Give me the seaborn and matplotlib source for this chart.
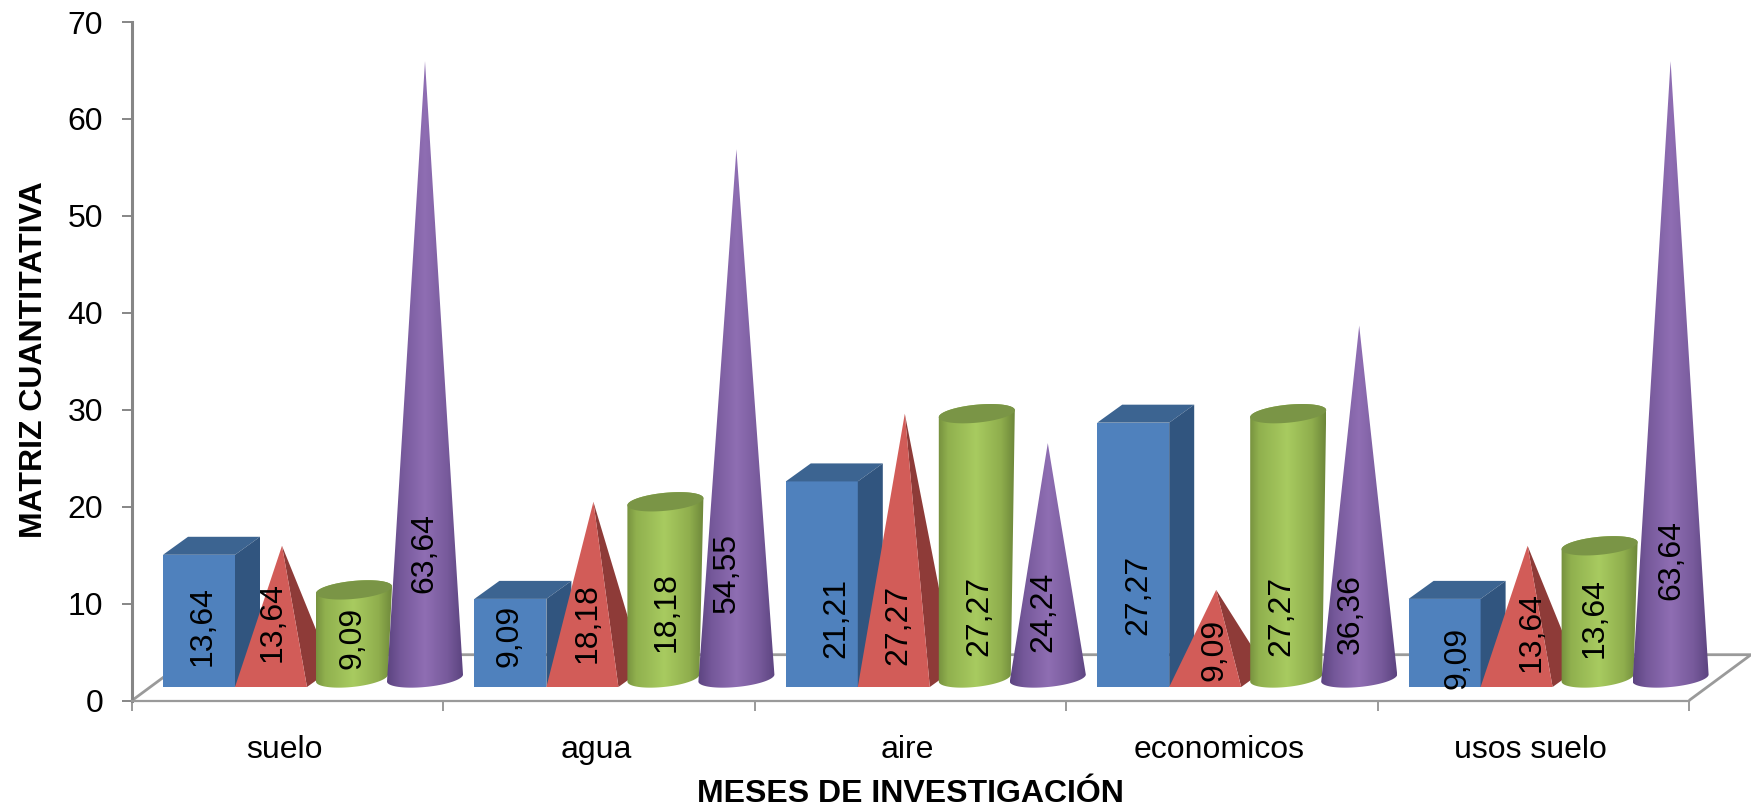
import numpy as np
import pandas as pd
import matplotlib
matplotlib.use("Agg")
import matplotlib.pyplot as plt
import seaborn as sns
from matplotlib.colors import LinearSegmentedColormap
from matplotlib.patches import Polygon, PathPatch
from matplotlib.path import Path
from matplotlib.ticker import FixedLocator
from matplotlib.transforms import ScaledTranslation

categories = ["suelo", "agua", "aire", "economicos", "usos suelo"]
box_values = [13.64, 9.09, 21.21, 27.27, 9.09]
pyramid_values = [13.64, 18.18, 27.27, 9.09, 13.64]
cylinder_values = [9.09, 18.18, 27.27, 27.27, 13.64]
cone_values = [63.64, 54.55, 24.24, 36.36, 63.64]
y_ticks = list(range(0, 71, 10))

# Data-label centres in pixels, one row per category (box, pyramid, cylinder, cone).
label_x_px = [[203, 273, 352, 424], [509, 588, 667, 727], [836, 898, 979, 1043],
              [1138, 1214, 1281, 1351], [1457, 1532, 1595, 1671]]
label_y_px = [[626, 622, 638, 553], [636, 623, 612, 573], [618, 625, 616, 612],
              [595, 650, 616, 614], [658, 632, 618, 560]]

W, H = 1751, 808
AX_LEFT, AX_RIGHT, AX_TOP, AX_BOTTOM = 132, 1689, 22, 700.5
GREY = "#868686"
FONT_PT = 23.0
TITLE_PT = 23.0

sns.set_theme(style="white")
plt.rcParams["font.family"] = ["Liberation Sans", "DejaVu Sans"]

fig = plt.figure(figsize=(W / 100, H / 100), dpi=100, facecolor="white")
ax = fig.add_axes([AX_LEFT / W, 1 - AX_BOTTOM / H,
                   (AX_RIGHT - AX_LEFT) / W, (AX_BOTTOM - AX_TOP) / H])
ax.patch.set_alpha(0)

CAT_PX = (AX_RIGHT - AX_LEFT) / 5
UNIT_PX = (AX_BOTTOM - AX_TOP) / 70


def px_x(px):
    return (px - AX_LEFT) / CAT_PX - 0.5


def px_y(py):
    return (AX_BOTTOM - py) / UNIT_PX


def w_x(px):
    return px / CAT_PX


def w_y(px):
    return px / UNIT_PX


# Oblique-projection constants shared by all solids.
FRONT_BASE = px_y(687)
CENTRE_BASE = px_y(678)
DEPTH_X, DEPTH_Y = w_x(25), w_y(18)
CENTRE_PX = AX_LEFT + CAT_PX / 2
BOX_LEFT = w_x(163 - CENTRE_PX)
BOX_W = w_x(72)
PYR_LEFT = w_x(235 - CENTRE_PX)
PYR_W = w_x(72)
PYR_TIP = w_x(282 - CENTRE_PX)
CYL_CENTRE = w_x(352 - CENTRE_PX)
CYL_RX = w_x(38)
CONE_CENTRE = w_x(425 - CENTRE_PX)
CONE_RX = w_x(38)
ELL_RY = w_y(9)
ELL_TILT = w_y(3.5)


def ellipse(cx, cy, rx, t):
    return cx + rx * np.cos(t), cy + ELL_RY * np.sin(t) + ELL_TILT * np.cos(t)


def shaded(vertices, x0, x1, stops, zorder):
    """Fill a closed outline with a left-to-right colour ramp."""
    outline = PathPatch(Path(np.vstack([vertices, vertices[0]]), closed=True),
                        transform=ax.transData, fc="none", ec="none", zorder=zorder,
                        clip_on=False)
    ax.add_patch(outline)
    cmap = LinearSegmentedColormap.from_list("ramp", stops)
    y = vertices[:, 1]
    img = ax.imshow(np.linspace(0, 1, 256)[None, :], cmap=cmap, aspect="auto",
                    extent=[x0, x1, y.min(), y.max()], interpolation="bilinear",
                    zorder=zorder)
    img.set_clip_box(fig.bbox)
    img.set_clip_path(outline)


df = pd.DataFrame({"categoria": categories, "valor": box_values})
sns.barplot(data=df, x="categoria", y="valor", color="#4F81BD", saturation=1,
            width=BOX_W, errorbar=None, linewidth=0, ax=ax, zorder=3)
box_patches = list(ax.patches)

GREEN_RAMP = [(0, "#728C3C"), (0.14, "#90B04E"), (0.5, "#A8CB60"),
              (0.82, "#8FAE4D"), (1, "#6D873A")]
PURPLE_RAMP = [(0, "#5C4480"), (0.18, "#75589A"), (0.5, "#8F6EB3"),
               (0.8, "#775A9B"), (1, "#5C4480")]

for i, patch in enumerate(box_patches):
    # Box: front face from the bar, with top and side faces behind it.
    left = i + BOX_LEFT
    right = left + BOX_W
    v = box_values[i]
    top = FRONT_BASE + v
    patch.set_x(left)
    patch.set_y(FRONT_BASE)
    ax.add_patch(Polygon([(left, top), (right, top), (right + DEPTH_X, top + DEPTH_Y),
                          (left + DEPTH_X, top + DEPTH_Y)], fc="#3C6491", ec="none",
                         zorder=3, clip_on=False))
    ax.add_patch(Polygon([(right, FRONT_BASE), (right, top), (right + DEPTH_X, top + DEPTH_Y),
                          (right + DEPTH_X, FRONT_BASE + DEPTH_Y)], fc="#31557F", ec="none",
                         zorder=3, clip_on=False))

    # Pyramid: side face first, then the front face over it.
    p_left = i + PYR_LEFT
    p_right = p_left + PYR_W
    tip = (i + PYR_TIP, CENTRE_BASE + pyramid_values[i])
    ax.add_patch(Polygon([tip, (p_right, FRONT_BASE), (p_right + DEPTH_X, FRONT_BASE + DEPTH_Y)],
                         fc="#8E3B38", ec="none", zorder=4, clip_on=False))
    ax.add_patch(Polygon([tip, (p_left, FRONT_BASE), (p_right, FRONT_BASE)],
                         fc="#D25C58", ec="none", zorder=4.1, clip_on=False))

    # Cylinder: ramped body with a flat darker top.
    cx = i + CYL_CENTRE
    cy_top = CENTRE_BASE + cylinder_values[i]
    lower = np.linspace(0, -np.pi, 60)
    bx, by = ellipse(cx, CENTRE_BASE, CYL_RX - w_x(2), lower)
    ux, uy = ellipse(cx + w_x(2), cy_top, CYL_RX, np.linspace(np.pi, 0, 60))
    body = np.column_stack([np.r_[bx, ux], np.r_[by, uy]])
    shaded(body, cx - CYL_RX, cx + CYL_RX + w_x(2), GREEN_RAMP, 5)
    tx, ty = ellipse(cx + w_x(2), cy_top, CYL_RX, np.linspace(0, 2 * np.pi, 120))
    ax.add_patch(Polygon(np.column_stack([tx, ty]), fc="#7A9546", ec="none", zorder=5.1,
                         clip_on=False))

    # Cone: apex above the centre of a ramped elliptical base.
    cx = i + CONE_CENTRE
    ex, ey = ellipse(cx, CENTRE_BASE, CONE_RX, np.linspace(0, -np.pi, 80))
    cone = np.vstack([[cx, CENTRE_BASE + cone_values[i]], np.column_stack([ex, ey])])
    shaded(cone, cx - CONE_RX, cx + CONE_RX, PURPLE_RAMP, 6)

# Floor of the oblique plot area.
floor_x = [px_x(1689), px_x(1751), px_x(194)]
floor_y = [px_y(700.5), px_y(654.7), px_y(654.7)]
ax.plot(floor_x, floor_y, color="#9A9A9A", lw=2, clip_on=False, zorder=1,
        solid_capstyle="butt")
ax.plot([px_x(132), px_x(194)], [px_y(700.5), px_y(654.7)], color="#9A9A9A", lw=2,
        clip_on=False, zorder=1)

# Value labels, rotated and written with a decimal comma.
series = [box_values, pyramid_values, cylinder_values, cone_values]
for i in range(len(categories)):
    for j, values in enumerate(series):
        txt = ax.text(px_x(label_x_px[i][j]), px_y(label_y_px[i][j]),
                      f"{values[i]:.2f}".replace(".", ","), rotation=90,
                      ha="center", va="center", fontsize=FONT_PT, color="black", zorder=10)
        if j == 0:
            txt.set_clip_path(box_patches[i])

ax.set_xlim(-0.5, 4.5)
ax.set_ylim(0, 70)
ax.set_yticks(y_ticks)
ax.set_xticks(range(5), categories)
ax.xaxis.set_minor_locator(FixedLocator(np.arange(-0.5, 5, 1)))

sns.despine(ax=ax)
ax.spines["left"].set_color(GREY)
ax.spines["left"].set_linewidth(2.2)
ax.spines["bottom"].set_color("#9A9A9A")
ax.spines["bottom"].set_linewidth(1.6)
ax.tick_params(axis="y", which="major", length=7.2, width=1.4, color=GREY, pad=13.5,
               labelsize=FONT_PT, labelcolor="black", left=True)
ax.tick_params(axis="x", which="major", length=0, pad=25, labelsize=FONT_PT, labelcolor="black")
ax.tick_params(axis="x", which="minor", length=7.5, width=1.4, color="#9A9A9A", bottom=True)

nudge = ScaledTranslation(-3 / 100, 0, fig.dpi_scale_trans)
for lab in ax.get_xticklabels():
    lab.set_transform(lab.get_transform() + nudge)

ax.set_xlabel("MESES DE INVESTIGACIÓN", fontsize=TITLE_PT, fontweight="bold", color="black")
ax.set_ylabel("MATRIZ CUANTITATIVA", fontsize=TITLE_PT, fontweight="bold", color="black")
ax.xaxis.set_label_coords(0.5, -0.116)
ax.yaxis.set_label_coords(-0.0535, 0.503)

fig.savefig("out.png", dpi=100, facecolor="white")
